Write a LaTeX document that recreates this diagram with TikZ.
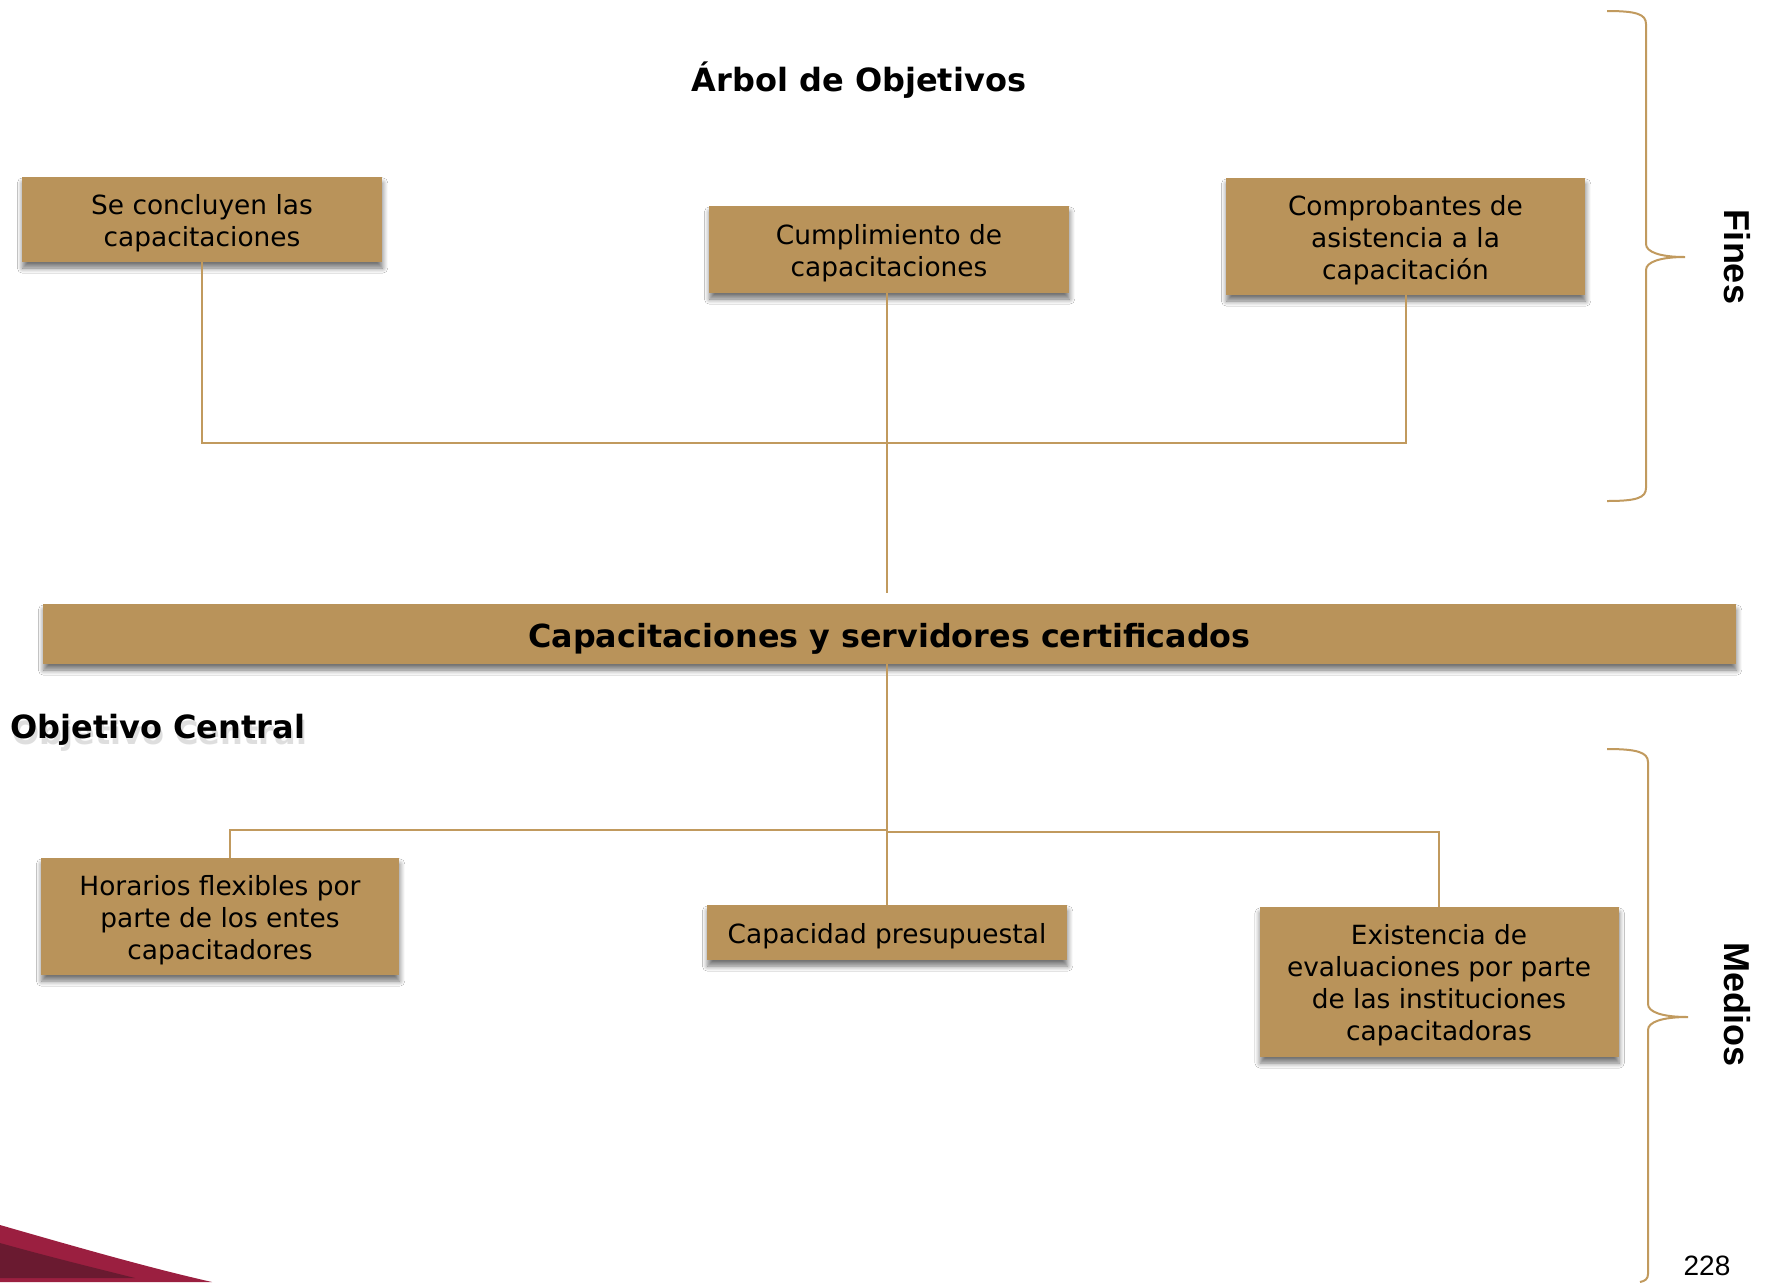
\documentclass[tikz,border=0pt]{standalone}
\usepackage{fontspec}
\setmainfont{DejaVu Sans}
\newfontfamily\arialfont{Liberation Sans}
\usetikzlibrary{shadows,shadows.blur}
\definecolor{boxtan}{HTML}{B9935A}
\definecolor{linec}{HTML}{C19A5E}
\definecolor{crim}{HTML}{9B1F40}
\definecolor{darkcrim}{HTML}{6A1A30}
\newcommand{\toppad}{\rule{0pt}{13.4pt}}
\begin{document}
\begin{tikzpicture}[x=0.5pt,y=-0.5pt,
  objbox/.style={fill=boxtan, draw=none, align=center, inner sep=0pt,
    font=\fontsize{13.2}{16}\selectfont,
    blur shadow={shadow xshift=0.3pt, shadow yshift=-3pt, shadow blur steps=6, shadow blur radius=2.6pt, shadow opacity=55}},
  conn/.style={draw=linec, line width=1pt},
  bracec/.style={draw=linec, line width=1pt},
  heading/.style={font=\fontsize{16}{19}\selectfont\bfseries, inner sep=0pt},
  sidelab/.style={font=\arialfont\fontsize{18}{21}\selectfont\bfseries, inner sep=0pt, rotate=-90}
]
\fill[white] (0,0) rectangle (1768,1282);
\useasboundingbox (0,0) rectangle (1768,1282);

% bottom-left swoosh
\fill[crim] (0,1225) .. controls (80,1248) and (150,1268) .. (212,1282) -- (0,1282) -- cycle;
\fill[darkcrim] (0,1243) .. controls (50,1257) and (95,1268) .. (135,1278) -- (0,1278) -- cycle;

% title
\node[heading] (title) at (859,80) {Árbol de Objetivos};

% fines
\node[objbox, minimum width=180pt, minimum height=42.5pt] (f1) at (202,219.5) {\toppad Se concluyen las\\capacitaciones};
\node[objbox, minimum width=180pt, minimum height=43.5pt] (f2) at (889,249.5) {\toppad Cumplimiento de\\capacitaciones};
\node[objbox, minimum width=179.5pt, minimum height=58.5pt] (f3) at (1405.5,236.5) {\toppad Comprobantes de\\asistencia a la\\capacitación};

% central objective
\node[objbox, minimum width=846.5pt, minimum height=30pt, font=\fontsize{15.9}{19}\selectfont\bfseries] (bar) at (889.5,634) {\rule{0pt}{16.6pt}Capacitaciones y servidores certificados};

\node[heading, anchor=west, text=black!25, opacity=0.5] at (12,736) {Objetivo Central};
\node[heading, anchor=west] (oc) at (10,730) {Objetivo Central};

% medios
\node[objbox, minimum width=179pt, minimum height=58.5pt] (m1) at (220,916.5) {\toppad Horarios flexibles por\\parte de los entes\\capacitadores};
\node[objbox, minimum width=180pt, minimum height=27.5pt] (m2) at (887,932.5) {\toppad Capacidad presupuestal};
\node[objbox, minimum width=179.5pt, minimum height=75pt] (m3) at (1439,982) {\toppad Existencia de\\evaluaciones por parte\\de las instituciones\\capacitadoras};

% connectors top
\coordinate (j1) at (887,443);
\coordinate (c1) at (887,593);
\draw[conn] (f1.south) |- (j1) -| (f3.south);
\draw[conn] (f2.south -| j1) -- (c1);

% connectors bottom
\coordinate (j2) at (887,830);
\draw[conn] (bar.south -| j2) -- (j2);
\draw[conn] (j2) -| ([xshift=5pt]m1.north);
\draw[conn] (j2) -- ++(0,2) -| (m3.north);
\draw[conn] (j2) -- (m2.north);

% braces
\draw[bracec] (1607,11) .. controls (1636,11) and (1646,14) .. (1646,24)
  -- (1646,244) .. controls (1646,252) and (1660,257) .. (1685,257)
  .. controls (1660,257) and (1646,262) .. (1646,270)
  -- (1646,488) .. controls (1646,498) and (1636,501) .. (1607,501);
\node[sidelab] (fines) at (1737,257) {Fines};

\draw[bracec] (1607,749) .. controls (1636,749) and (1648,752) .. (1648,762)
  -- (1648,1004) .. controls (1648,1012) and (1662,1017) .. (1688,1017)
  .. controls (1662,1017) and (1648,1022) .. (1648,1030)
  -- (1648,1274) .. controls (1648,1279) and (1645,1281) .. (1640,1282);
\node[sidelab] (medios) at (1737,1004) {Medios};

\node[font=\arialfont\fontsize{14}{16}\selectfont, inner sep=0pt] (page) at (1707,1266) {228};
\end{tikzpicture}
\end{document}
